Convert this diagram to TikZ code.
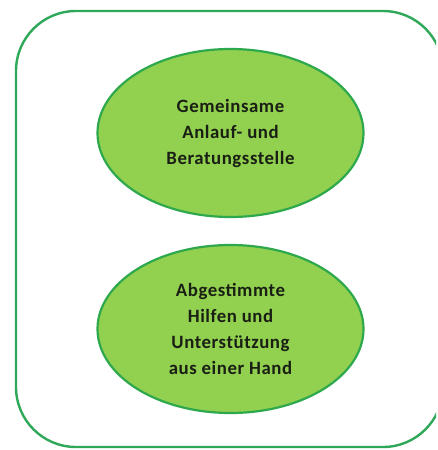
\documentclass[tikz,border=0pt]{standalone}
\usepackage{fontspec}
\setmainfont{Carlito}[LetterSpace=3]
\usetikzlibrary{shapes.geometric}
\definecolor{framegreen}{HTML}{2FA85A}
\definecolor{ellfill}{HTML}{92D050}
\definecolor{ellborder}{HTML}{2EA84C}
\definecolor{txt}{HTML}{1A1F14}
\tikzset{
  frame/.style={draw=framegreen, line width=2.4pt, rounded corners=60pt},
  bubble/.style={ellipse, draw=ellborder, fill=ellfill, line width=2.2pt,
    minimum width=266pt, minimum height=168pt, inner sep=0pt,
    align=center, text=txt, font=\fontsize{18.8}{26}\selectfont\bfseries}
}
\begin{document}
\begin{tikzpicture}[x=1pt,y=-1pt]
\useasboundingbox (0,0) rectangle (437,450);
\begin{scope}
\clip (0,0) rectangle (436,450);
\draw[frame] (16,11) rectangle (443,447);
\end{scope}
\node[bubble] (top) at (230.5,133) {Gemeinsame\\Anlauf- und\\Beratungsstelle};
\node[bubble] (bottom) at (230.5,329) {Abgestimmte\\Hilfen und\\Unterstützung\\aus einer Hand};
\end{tikzpicture}
\end{document}
